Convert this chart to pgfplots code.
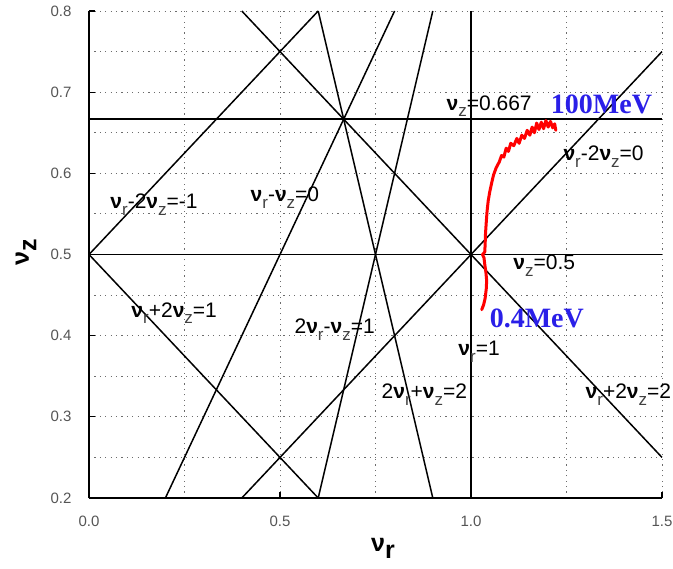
\documentclass[border=0pt]{standalone}
\usepackage{pgfplots}
\pgfplotsset{compat=1.18}
\usepackage{fontspec}
\setmainfont{Liberation Sans}
\newfontfamily\serifb{Liberation Serif}
\definecolor{tickgray}{HTML}{555555}
\definecolor{subgray}{HTML}{404040}
\definecolor{mevblue}{HTML}{2A1FE8}

% bold nu with a lowered, slightly smaller subscript
\newcommand{\vv}{\textbf{ν}}
\newcommand{\sub}[1]{\raisebox{-0.33em}{\fontsize{17bp}{17bp}\selectfont\color{subgray}#1}}
\newcommand{\annot}{\fontsize{21bp}{24bp}\selectfont}

\begin{document}
\begin{tikzpicture}
\begin{axis}[
  scale only axis,
  width=573bp, height=487bp,
  xmin=0, xmax=1.5, ymin=0.2, ymax=0.8,
  axis lines=left,
  axis line style={-, line width=1.6bp},
  xtick={0,0.5,1,1.5},
  ytick={0.2,0.3,0.4,0.5,0.6,0.7,0.8},
  minor xtick={0.25,0.75,1.25},
  minor ytick={0.25,0.35,0.45,0.55,0.65,0.75},
  grid=both,
  major grid style={gray!85!black, line width=0.9bp, dash pattern=on 1.2bp off 4.2bp},
  minor grid style={gray!85!black, line width=0.9bp, dash pattern=on 1.2bp off 4.2bp},
  tick align=inside,
  major tick length=6bp,
  minor tick length=0bp,
  tick style={black, line width=1.2bp},
  /pgf/number format/assume math mode=true,
  /pgf/number format/fixed,
  /pgf/number format/fixed zerofill,
  /pgf/number format/precision=1,
  ticklabel style={font=\fontsize{15bp}{18bp}\selectfont, text=tickgray},
  xticklabel style={yshift=-15bp},
  yticklabel style={xshift=-14bp},
  xlabel={\fontsize{25bp}{25bp}\selectfont\textbf{ν\raisebox{-0.3em}{r}}},
  ylabel={\fontsize{25bp}{25bp}\selectfont\textbf{ν\raisebox{-0.3em}{z}}},
  xlabel style={at={(axis description cs:0.513,-0.103)}, anchor=center},
  ylabel style={at={(axis description cs:-0.110,0.505)}, anchor=center},
  clip=false,
]
% resonance lines
\addplot[black, line width=1.9bp] coordinates {(0,0.667) (1.5,0.667)};
\addplot[black, line width=1.9bp] coordinates {(0,0.5) (1.5,0.5)};
\addplot[black, line width=1.9bp] coordinates {(1,0.2) (1,0.8)};
\addplot[black, line width=1.5bp] coordinates {(0.4,0.2) (1.5,0.75)};   % nr-2nz=0
\addplot[black, line width=1.5bp] coordinates {(0,0.5) (0.6,0.8)};     % nr-2nz=-1
\addplot[black, line width=1.5bp] coordinates {(0,0.5) (0.6,0.2)};     % nr+2nz=1
\addplot[black, line width=1.5bp] coordinates {(0.4,0.8) (1.5,0.25)};  % nr+2nz=2
\addplot[black, line width=1.5bp] coordinates {(0.2,0.2) (0.8,0.8)};   % nr-nz=0
\addplot[black, line width=1.5bp] coordinates {(0.6,0.2) (0.9,0.8)};   % 2nr-nz=1
\addplot[black, line width=1.5bp] coordinates {(0.6,0.8) (0.9,0.2)};   % 2nr+nz=2

% tune path from 0.4 MeV to 100 MeV
\addplot[red, line width=3bp, line join=round, line cap=round] coordinates {
(1.028,0.432) (1.033,0.438) (1.037,0.446) (1.040,0.458) (1.041,0.468)
(1.039,0.478) (1.036,0.488) (1.034,0.496) (1.030,0.500) (1.036,0.503)
(1.037,0.512) (1.038,0.526) (1.040,0.540) (1.042,0.553) (1.045,0.566)
(1.049,0.577) (1.054,0.588) (1.059,0.598) (1.066,0.607) (1.074,0.614)
(1.080,0.622) (1.086,0.620) (1.092,0.631) (1.098,0.627) (1.104,0.637)
(1.112,0.634) (1.120,0.643) (1.126,0.637) (1.133,0.647) (1.140,0.643)
(1.147,0.653) (1.154,0.647) (1.160,0.657) (1.166,0.650) (1.172,0.662)
(1.178,0.654) (1.184,0.663) (1.190,0.655) (1.196,0.665) (1.202,0.657)
(1.208,0.664) (1.214,0.656) (1.219,0.661) (1.222,0.653)
};

% labels of the resonance lines
\node[anchor=base west, font=\annot] at (axis cs:0.927,0.678) {\vv\sub{z}=0.667};
\node[anchor=base west, font=\annot] at (axis cs:1.233,0.616) {\vv\sub{r}-2\vv\sub{z}=0};
\node[anchor=base west, font=\annot] at (axis cs:0.047,0.557) {\vv\sub{r}-2\vv\sub{z}=-1};
\node[anchor=base west, font=\annot] at (axis cs:0.414,0.565) {\vv\sub{r}-\vv\sub{z}=0};
\node[anchor=base west, font=\annot] at (axis cs:1.102,0.481) {\vv\sub{z}=0.5};
\node[anchor=base west, font=\annot] at (axis cs:0.102,0.423) {\vv\sub{r}+2\vv\sub{z}=1};
\node[anchor=base west, font=\annot] at (axis cs:0.529,0.403) {2\vv\sub{r}-\vv\sub{z}=1};
\node[anchor=base west, font=\annot] at (axis cs:0.958,0.376) {\vv\sub{r}=1};
\node[anchor=base west, font=\annot] at (axis cs:0.757,0.323) {2\vv\sub{r}+\vv\sub{z}=2};
\node[anchor=base west, font=\annot] at (axis cs:1.291,0.323) {\vv\sub{r}+2\vv\sub{z}=2};

% energy labels
\node[anchor=base west, text=mevblue, font=\serifb\bfseries\fontsize{28bp}{30bp}\selectfont] at (axis cs:1.200,0.674) {100MeV};
\node[anchor=base west, text=mevblue, font=\serifb\bfseries\fontsize{28bp}{30bp}\selectfont] at (axis cs:1.040,0.410) {0.4MeV};
\end{axis}
\pgfresetboundingbox
\useasboundingbox (-89bp,-71bp) rectangle (584bp,498bp);
\end{tikzpicture}
\end{document}
